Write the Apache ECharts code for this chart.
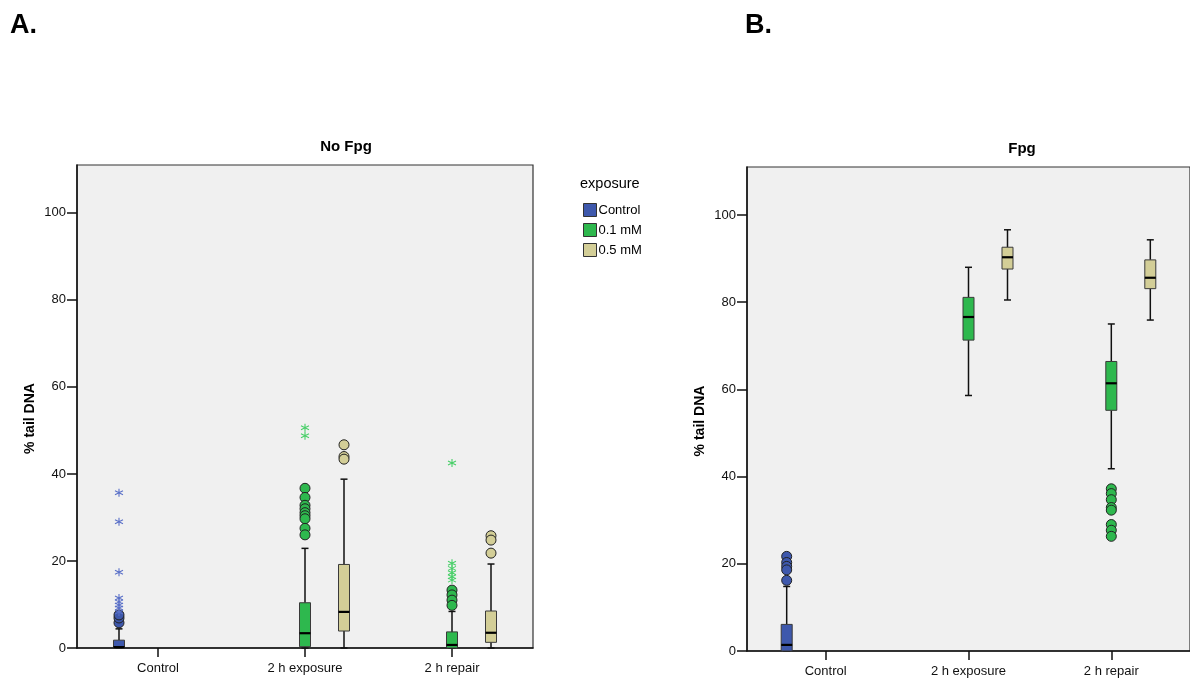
<!DOCTYPE html>
<html>
<head>
<meta charset="utf-8">
<script src="https://cdn.jsdelivr.net/npm/echarts@6/dist/echarts.min.js"></script>
<style>
html,body{margin:0;padding:0;background:#fff;}
#chart{width:1190px;height:678px;}
</style>
</head>
<body>
<div id="chart"></div>
<script>
// ---------- DATA ----------
const categories = ['Control', '2 h exposure', '2 h repair'];
const exposures = ['Control', '0.1 mM', '0.5 mM'];
const yTicks = [0, 20, 40, 60, 80, 100];

// box stats: [categoryIndex, lowerWhisker, Q1, median, Q3, upperWhisker]
const noFpgControlBox = [[0, 0, 0, 0.2, 1.8, 4.4]];
const noFpg01Box = [[1, 0, 0.3, 3.4, 10.4, 22.9], [2, 0, 0, 0.7, 3.7, 8.4]];
const noFpg05Box = [[1, 0, 3.9, 8.3, 19.2, 38.8], [2, 0, 1.3, 3.5, 8.5, 19.3]];

// outliers (circles) and extremes (stars): [categoryIndex, value]
const noFpgControlOut = [[0, 5.8], [0, 6.9], [0, 7.6]];
const noFpgControlExt = [[0, 35.7], [0, 29.0], [0, 17.4], [0, 11.5], [0, 10.6], [0, 9.9], [0, 9.2], [0, 8.3]];
const noFpg01Out = [[1, 36.7], [1, 34.6], [1, 32.8], [1, 32.0], [1, 31.1], [1, 30.4], [1, 29.7], [1, 27.5], [1, 26.0],
                    [2, 13.3], [2, 12.2], [2, 11.0], [2, 9.8]];
const noFpg01Ext = [[1, 50.6], [1, 48.8], [2, 42.5], [2, 19.5], [2, 18.3], [2, 17.3], [2, 16.4], [2, 15.6]];
const noFpg05Out = [[1, 46.7], [1, 44.0], [1, 43.4], [2, 25.8], [2, 24.8], [2, 21.8]];

const fpgControlBox = [[0, 0, 0, 1.4, 6.1, 14.8]];
const fpg01Box = [[1, 58.6, 71.3, 76.6, 81.1, 88.0], [2, 41.8, 55.2, 61.4, 66.4, 75.0]];
const fpg05Box = [[1, 80.5, 87.6, 90.3, 92.6, 96.6], [2, 75.9, 83.1, 85.6, 89.7, 94.3]];
const fpgControlOut = [[0, 21.7], [0, 20.3], [0, 19.4], [0, 18.6], [0, 16.2]];
const fpg01Out = [[2, 37.2], [2, 36.1], [2, 34.7], [2, 32.9], [2, 32.3], [2, 29.0], [2, 27.7], [2, 26.3]];

// ---------- STYLE ----------
const colors = ['#3e58ac', '#2eb84e', '#d3ce97'];
const starColors = ['#5a70c8', '#48cf68', '#d3ce97'];
const offsets = [-39, 0, 39];
const FONT = '"Liberation Sans", Arial, sans-serif';
const STAR = 'path://M0,-5L0,5M-4.33,-2.5L4.33,2.5M-4.33,2.5L4.33,-2.5';

function boxRender(offsetPx) {
  return function (params, api) {
    const cat = api.value(0);
    const lo = api.coord([cat, api.value(1)]);
    const q1 = api.coord([cat, api.value(2)]);
    const med = api.coord([cat, api.value(3)]);
    const q3 = api.coord([cat, api.value(4)]);
    const hi = api.coord([cat, api.value(5)]);
    const x = lo[0] + offsetPx;
    const hw = 5.5, cap = 3.5;
    const ls = { stroke: '#111', lineWidth: 1.5 };
    return {
      type: 'group',
      children: [
        { type: 'line', shape: { x1: x, y1: hi[1], x2: x, y2: q3[1] }, style: ls },
        { type: 'line', shape: { x1: x, y1: q1[1], x2: x, y2: lo[1] }, style: ls },
        { type: 'line', shape: { x1: x - cap, y1: hi[1], x2: x + cap, y2: hi[1] }, style: ls },
        { type: 'line', shape: { x1: x - cap, y1: lo[1], x2: x + cap, y2: lo[1] }, style: ls },
        { type: 'rect', shape: { x: x - hw, y: q3[1], width: 2 * hw, height: Math.max(q1[1] - q3[1], 1) },
          style: { fill: api.visual('color'), stroke: '#3a3a3a', lineWidth: 1 } },
        { type: 'line', shape: { x1: x - hw, y1: med[1], x2: x + hw, y2: med[1] }, style: { stroke: '#000', lineWidth: 2.2 } }
      ]
    };
  };
}

function boxSeries(name, data, gi, idx) {
  return {
    name: name, type: 'custom', xAxisIndex: gi, yAxisIndex: gi,
    renderItem: boxRender(offsets[idx]),
    itemStyle: { color: colors[idx], borderColor: '#333', borderWidth: 1 },
    encode: { x: 0, y: [1, 2, 3, 4, 5] },
    data: data, z: 2
  };
}
function circleSeries(data, gi, idx) {
  return {
    name: 'out' + gi + idx, type: 'scatter', xAxisIndex: gi, yAxisIndex: gi,
    symbol: 'circle', symbolSize: 10, symbolOffset: [offsets[idx], 0],
    itemStyle: { color: colors[idx], borderColor: '#222', borderWidth: 1, opacity: 1 },
    data: data, z: 3, silent: true
  };
}
function starSeries(data, gi, idx) {
  return {
    name: 'ext' + gi + idx, type: 'scatter', xAxisIndex: gi, yAxisIndex: gi,
    symbol: STAR, symbolSize: 8, symbolOffset: [offsets[idx], 0],
    itemStyle: { color: 'none', borderColor: starColors[idx], borderWidth: 1.1, opacity: 1 },
    data: data, z: 3, silent: true
  };
}

function xAxisDef(gi) {
  return {
    type: 'value', gridIndex: gi, min: -0.551, max: 2.551,
    splitLine: { show: false },
    axisLine: { show: true, onZero: false, lineStyle: { color: '#111', width: 1.5 } },
    axisTick: { show: true, inside: false, length: 9, customValues: [0, 1, 2], lineStyle: { color: '#111', width: 1.5 } },
    axisLabel: { customValues: [0, 1, 2], formatter: v => categories[Math.round(v)], margin: 14,
      fontFamily: FONT, fontSize: 13, color: '#111' }
  };
}
function yAxisDef(gi) {
  return {
    type: 'value', gridIndex: gi, min: 0, max: 111,
    name: '% tail DNA', nameLocation: 'middle', nameGap: 40,
    nameTextStyle: { fontFamily: FONT, fontWeight: 'bold', fontSize: 14, color: '#000', padding: [0, 24, 0, 0] },
    splitLine: { show: false },
    axisLine: { show: true, onZero: false, lineStyle: { color: '#111', width: 1.5 } },
    axisTick: { show: true, inside: false, length: 10, customValues: yTicks, lineStyle: { color: '#111', width: 1.5 } },
    axisLabel: { customValues: yTicks, margin: 11, fontFamily: FONT, fontSize: 13, color: '#111' }
  };
}

const chart = echarts.init(document.getElementById('chart'), null, { renderer: 'canvas' });
chart.setOption({
  backgroundColor: '#ffffff',
  animation: false,
  grid: [
    { left: 77, top: 165, width: 456, height: 483, show: true, backgroundColor: '#f0f0f0', borderColor: '#333', borderWidth: 1.2 },
    { left: 747, top: 167, width: 456, height: 484, show: true, backgroundColor: '#f0f0f0', borderColor: '#333', borderWidth: 1.2 }
  ],
  xAxis: [xAxisDef(0), xAxisDef(1)],
  yAxis: [yAxisDef(0), yAxisDef(1)],
  legend: {
    data: exposures, orient: 'vertical', left: 583, top: 203, padding: 0, itemWidth: 13, itemHeight: 13, itemGap: 6,
    icon: 'rect', selectedMode: false,
    itemStyle: { borderColor: '#333', borderWidth: 1 },
    textStyle: { fontFamily: FONT, fontSize: 13, color: '#000', padding: [0, 0, 0, -3] }
  },
  graphic: [
    { type: 'text', left: 10, top: 12, style: { text: 'A.', font: 'bold 27px "Liberation Sans", Arial', fill: '#000' } },
    { type: 'text', left: 745, top: 12, style: { text: 'B.', font: 'bold 27px "Liberation Sans", Arial', fill: '#000' } },
    { type: 'text', x: 346, y: 147, style: { text: 'No Fpg', font: 'bold 15px "Liberation Sans", Arial', fill: '#000', textAlign: 'center', textVerticalAlign: 'middle' } },
    { type: 'text', x: 1022, y: 149, style: { text: 'Fpg', font: 'bold 15px "Liberation Sans", Arial', fill: '#000', textAlign: 'center', textVerticalAlign: 'middle' } },
    { type: 'text', x: 580, y: 184, style: { text: 'exposure', font: '14.5px "Liberation Sans", Arial', fill: '#000', textVerticalAlign: 'middle' } }
  ],
  series: [
    boxSeries(exposures[0], noFpgControlBox, 0, 0),
    boxSeries(exposures[1], noFpg01Box, 0, 1),
    boxSeries(exposures[2], noFpg05Box, 0, 2),
    circleSeries(noFpgControlOut, 0, 0),
    starSeries(noFpgControlExt, 0, 0),
    circleSeries(noFpg01Out, 0, 1),
    starSeries(noFpg01Ext, 0, 1),
    circleSeries(noFpg05Out, 0, 2),
    boxSeries(exposures[0], fpgControlBox, 1, 0),
    boxSeries(exposures[1], fpg01Box, 1, 1),
    boxSeries(exposures[2], fpg05Box, 1, 2),
    circleSeries(fpgControlOut, 1, 0),
    circleSeries(fpg01Out, 1, 1)
  ]
});
</script>
</body>
</html>
